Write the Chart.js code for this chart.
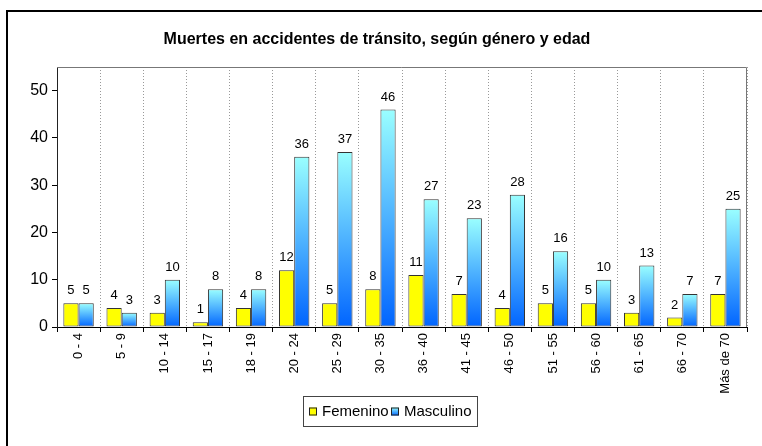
<!DOCTYPE html>
<html>
<head>
<meta charset="utf-8">
<script src="https://cdn.jsdelivr.net/npm/chart.js@4"></script>
<style>
  html, body { margin: 0; padding: 0; background: #fff; }
  canvas { display: block; }
</style>
</head>
<body>
<canvas id="c" width="762" height="446"></canvas>
<script>
// datos del gráfico
const categorias = ["0 - 4", "5 - 9", "10 - 14", "15 - 17", "18 - 19", "20 - 24", "25 - 29", "30 - 35",
  "36 - 40", "41 - 45", "46 - 50", "51 - 55", "56 - 60", "61 - 65", "66 - 70", "Más de 70"];
const femenino = [5, 4, 3, 1, 4, 12, 5, 8, 11, 7, 4, 5, 5, 3, 2, 7];
const masculino = [5, 3, 10, 8, 8, 36, 37, 46, 27, 23, 28, 16, 10, 13, 7, 25];
const yTicks = [0, 10, 20, 30, 40, 50];

const FONT = "'Liberation Sans', Arial, sans-serif";
Chart.defaults.color = "#000";
Chart.defaults.font.family = FONT;

// degradado azul de cada barra
function azul(ctx) {
  const chart = ctx.chart;
  if (!chart.chartArea || ctx.type !== "data") return "#3399ff";
  const y = chart.scales.y;
  const top = y.getPixelForValue(ctx.raw);
  const bottom = y.getPixelForValue(0);
  const g = chart.ctx.createLinearGradient(0, top, 0, bottom + 0.01);
  g.addColorStop(0, "#9AFFFF");
  g.addColorStop(1, "#0064FF");
  return g;
}

// fondo, marco exterior y borde del área de trazado
const marco = {
  id: "marco",
  beforeDraw(chart) {
    const c = chart.ctx;
    c.save();
    c.fillStyle = "#fff";
    c.fillRect(0, 0, chart.width, chart.height);
    c.strokeStyle = "#000";
    c.lineWidth = 2;
    c.beginPath();
    c.moveTo(7, chart.height);
    c.lineTo(7, 11);
    c.lineTo(chart.width, 11);
    c.stroke();
    c.restore();
  },
  afterDraw(chart) {
    const a = chart.chartArea;
    const c = chart.ctx;
    c.save();
    c.strokeStyle = "#777";
    c.lineWidth = 1;
    c.beginPath();
    c.moveTo(a.left, a.top + 0.5);
    c.lineTo(a.right - 0.5, a.top + 0.5);
    c.lineTo(a.right - 0.5, a.bottom);
    c.stroke();
    c.restore();
  },
};

// etiquetas de valores encima de las barras
const etiquetas = {
  id: "etiquetas",
  afterDatasetsDraw(chart) {
    const c = chart.ctx;
    c.save();
    c.font = "13px " + FONT;
    c.fillStyle = "#000";
    c.textAlign = "center";
    c.textBaseline = "alphabetic";
    chart.data.datasets.forEach((ds, i) => {
      chart.getDatasetMeta(i).data.forEach((bar, j) => {
        c.fillText(String(ds.data[j]), bar.x, bar.y - 9);
      });
    });
    c.restore();
  },
};

// leyenda con recuadro
const leyenda = {
  id: "leyenda",
  afterDraw(chart) {
    const c = chart.ctx;
    const x0 = 303, y0 = 396, w = 174, h = 30;
    c.save();
    c.fillStyle = "#fff";
    c.fillRect(x0, y0, w, h);
    c.strokeStyle = "#444";
    c.lineWidth = 1;
    c.strokeRect(x0 + 0.5, y0 + 0.5, w, h);
    c.font = "15px " + FONT;
    c.textBaseline = "middle";
    const cy = y0 + h / 2 + 0.5;
    const items = [
      { text: chart.data.datasets[0].label, fill: "#FFFF00", x: 309 },
      { text: chart.data.datasets[1].label, fill: null, x: 391 },
    ];
    items.forEach((it) => {
      let fill = it.fill;
      if (!fill) {
        fill = c.createLinearGradient(0, cy - 4, 0, cy + 4);
        fill.addColorStop(0, "#9AFFFF");
        fill.addColorStop(1, "#0064FF");
      }
      c.fillStyle = fill;
      c.fillRect(it.x, cy - 4, 8, 8);
      c.strokeStyle = "#222";
      c.strokeRect(it.x + 0.5, cy - 3.5, 7, 7);
      c.fillStyle = "#000";
      c.fillText(it.text, it.x + 13, cy);
    });
    c.restore();
  },
};

new Chart(document.getElementById("c"), {
  type: "bar",
  data: {
    labels: categorias,
    datasets: [
      {
        label: "Femenino",
        data: femenino,
        backgroundColor: "#FFFF00",
        borderColor: "#333",
        borderWidth: 1,
        borderSkipped: false,
      },
      {
        label: "Masculino",
        data: masculino,
        backgroundColor: azul,
        borderColor: "#333",
        borderWidth: 1,
        borderSkipped: false,
      },
    ],
  },
  options: {
    responsive: false,
    animation: false,
    devicePixelRatio: 1,
    layout: { padding: { left: 7, right: 15, top: 0, bottom: 0 } },
    datasets: { bar: { categoryPercentage: 0.705, barPercentage: 1 } },
    plugins: {
      legend: { display: false },
      tooltip: { enabled: false },
      title: {
        display: true,
        text: "Muertes en accidentes de tránsito, según género y edad",
        color: "#000",
        font: { size: 16, weight: "bold", family: FONT },
        padding: { top: 30.4, bottom: 17.4 },
      },
    },
    scales: {
      x: {
        afterFit(scale) { scale.height = 119; },
        grid: {
          offset: true,
          color: "#999",
          lineWidth: 1,
          drawTicks: true,
          tickLength: 5,
          tickColor: "#000",
          tickBorderDash: [],
        },
        border: { display: true, color: "#000", width: 1, dash: [1, 2] },
        ticks: {
          autoSkip: false,
          minRotation: 90,
          maxRotation: 90,
          padding: 1,
          font: { size: 13 },
          color: "#000",
        },
      },
      y: {
        min: 0,
        max: 55,
        afterFit(scale) { scale.width = 50; },
        afterBuildTicks(scale) { scale.ticks = yTicks.map((v) => ({ value: v })); },
        grid: {
          drawOnChartArea: false,
          drawTicks: true,
          tickLength: 5,
          tickColor: "#000",
        },
        border: { display: true, color: "#222", width: 1 },
        ticks: { padding: 4, font: { size: 16 }, color: "#000" },
      },
    },
  },
  plugins: [marco, etiquetas, leyenda],
});
</script>
</body>
</html>
